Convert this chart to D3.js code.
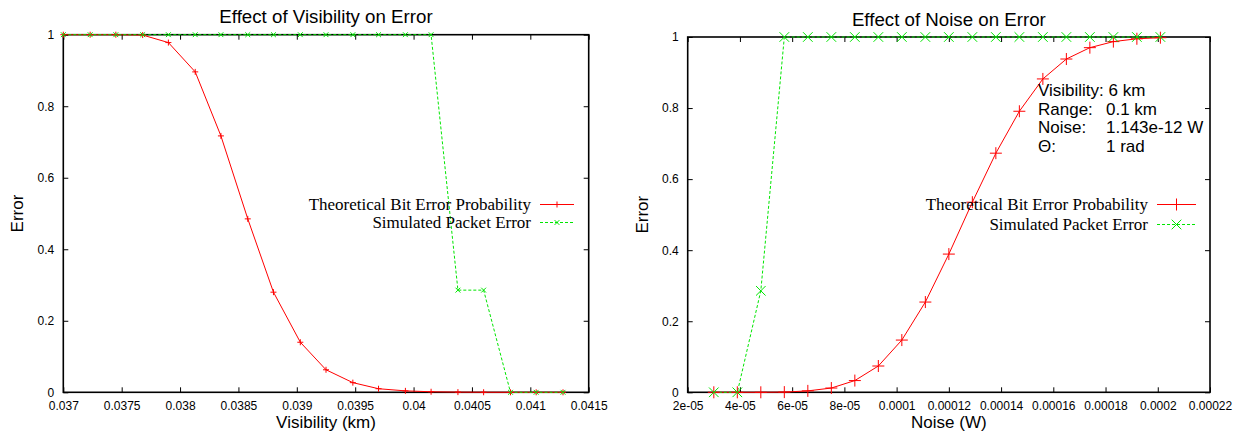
<!DOCTYPE html>
<html>
<head>
<meta charset="utf-8">
<script src="https://cdn.jsdelivr.net/npm/d3@7"></script>
<style>
  body { margin: 0; background: #fff; }
  svg { display: block; }
  .tick text { font-family: "Liberation Sans", Arial, sans-serif; font-size: 12px; fill: #000; }
</style>
</head>
<body>
<svg id="chart" width="1246" height="436"></svg>
<script>
// ---- data ----
const visX = [0.03700, 0.03723, 0.03745, 0.03768, 0.03790, 0.03813, 0.03835, 0.03858, 0.03880, 0.03903,
              0.03925, 0.03948, 0.03970, 0.03993, 0.04015, 0.04038, 0.04060, 0.04083, 0.04105, 0.04128];
const visTheory = [1, 1, 1, 0.999, 0.978, 0.896, 0.717, 0.485, 0.280, 0.140,
                   0.063, 0.027, 0.010, 0.004, 0.0015, 0.0005, 0.0001, 0, 0, 0];
const visSim = [1, 1, 1, 1, 1, 1, 1, 1, 1, 1,
                1, 1, 1, 1, 1, 0.2857, 0.2857, 0, 0, 0];

const noiseX = [3.0e-5, 3.9e-5, 4.8e-5, 5.7e-5, 6.6e-5, 7.5e-5, 8.4e-5, 9.3e-5, 1.02e-4, 1.11e-4,
                1.20e-4, 1.29e-4, 1.38e-4, 1.47e-4, 1.56e-4, 1.65e-4, 1.74e-4, 1.83e-4, 1.92e-4, 2.01e-4];
const noiseTheory = [0, 0, 0, 0.0005, 0.004, 0.012, 0.033, 0.074, 0.147, 0.254,
                     0.389, 0.535, 0.673, 0.791, 0.882, 0.938, 0.970, 0.987, 0.995, 0.998];
const noiseSim = [0, 0, 0.2857, 1, 1, 1, 1, 1, 1, 1,
                  1, 1, 1, 1, 1, 1, 1, 1, 1, 1];

const yTicks = [0, 0.2, 0.4, 0.6, 0.8, 1];
const yTickLabels = ["0", "0.2", "0.4", "0.6", "0.8", "1"];
const visTicks = [0.037, 0.0375, 0.038, 0.0385, 0.039, 0.0395, 0.04, 0.0405, 0.041, 0.0415];
const visTickLabels = ["0.037", "0.0375", "0.038", "0.0385", "0.039", "0.0395", "0.04", "0.0405", "0.041", "0.0415"];
const noiseTicks = [2e-5, 4e-5, 6e-5, 8e-5, 1e-4, 1.2e-4, 1.4e-4, 1.6e-4, 1.8e-4, 2e-4, 2.2e-4];
const noiseTickLabels = ["2e-05", "4e-05", "6e-05", "8e-05", "0.0001", "0.00012", "0.00014", "0.00016", "0.00018", "0.0002", "0.00022"];

const seriesNames = ["Theoretical Bit Error Probability", "Simulated Packet Error"];
const noteLabels = ["Visibility:", "Range:", "Noise:", "\u0398:"];
const noteValues = ["6 km", "0.1 km", "1.143e-12 W", "1 rad"];

const RED = "#ff0000", GREEN = "#00e600";
const SANS = "'Liberation Sans', Arial, sans-serif";
const SERIF = "'Liberation Serif', 'Times New Roman', serif";

const svg = d3.select("#chart");

// marker shapes
const plus = s => `M${-s},0H${s}M0,${-s}V${s}`;
const cross = s => `M${-s},${-s}L${s},${s}M${-s},${s}L${s},${-s}`;

function panel(opt) {
  const x = d3.scaleLinear().domain(opt.xDomain).range(opt.xRange);
  const y = d3.scaleLinear().domain([0, 1]).range(opt.yRange);
  const g = svg.append("g");

  // axes, ticks pointing inwards (gnuplot style, mirrored)
  g.append("g").attr("transform", `translate(0,${opt.yRange[0]})`)
    .call(d3.axisBottom(x).tickValues(opt.xTicks).tickFormat((d, i) => opt.xLabels[i])
      .tickSizeInner(-5).tickSizeOuter(0).tickPadding(9));
  g.append("g").attr("transform", `translate(0,${opt.yRange[1]})`)
    .call(d3.axisTop(x).tickValues(opt.xTicks).tickFormat("").tickSizeInner(-5).tickSizeOuter(0));
  g.append("g").attr("transform", `translate(${opt.xRange[0]},0)`)
    .call(d3.axisLeft(y).tickValues(yTicks).tickFormat((d, i) => yTickLabels[i])
      .tickSizeInner(-5).tickSizeOuter(0).tickPadding(9));
  g.append("g").attr("transform", `translate(${opt.xRange[1]},0)`)
    .call(d3.axisRight(y).tickValues(yTicks).tickFormat("").tickSizeInner(-5).tickSizeOuter(0));
  g.selectAll(".domain").remove();
  g.selectAll(".tick line").attr("stroke", "#000").attr("stroke-width", 1);

  g.append("rect")
    .attr("x", opt.xRange[0]).attr("y", opt.yRange[1])
    .attr("width", opt.xRange[1] - opt.xRange[0]).attr("height", opt.yRange[0] - opt.yRange[1])
    .attr("fill", "none").attr("stroke", "#000").attr("stroke-width", 1.6);

  const line = d3.line().x(d => x(d[0])).y(d => y(d[1]));
  const theory = opt.xs.map((v, i) => [v, opt.theory[i]]);
  const sim = opt.xs.map((v, i) => [v, opt.sim[i]]);

  g.append("path").datum(theory).attr("d", line)
    .attr("fill", "none").attr("stroke", RED).attr("stroke-width", 1);
  g.append("path").datum(sim).attr("d", line)
    .attr("fill", "none").attr("stroke", GREEN).attr("stroke-width", 1).attr("stroke-dasharray", "3,2");

  g.selectAll("path.mt").data(theory).join("path").attr("class", "mt")
    .attr("transform", d => `translate(${x(d[0])},${y(d[1])})`)
    .attr("d", plus(opt.ms)).attr("stroke", RED).attr("stroke-width", 1);
  g.selectAll("path.ms").data(sim).join("path").attr("class", "ms")
    .attr("transform", d => `translate(${x(d[0])},${y(d[1])})`)
    .attr("d", cross(opt.ms * 0.8)).attr("stroke", GREEN).attr("stroke-width", 1);

  // title and axis labels
  const cx = (opt.xRange[0] + opt.xRange[1]) / 2;
  g.append("text").attr("x", cx).attr("y", opt.yRange[1] - 11.5)
    .attr("text-anchor", "middle").style("font", `18.7px ${SANS}`).text(opt.title);
  g.append("text").attr("x", cx).attr("y", 428)
    .attr("text-anchor", "middle").style("font", `17px ${SANS}`).text(opt.xTitle);
  g.append("text").attr("transform", `translate(${opt.xRange[0] - 40},${(opt.yRange[0] + opt.yRange[1]) / 2}) rotate(-90)`)
    .attr("text-anchor", "middle").style("font", `17px ${SANS}`).text("Error");

  // legend
  const styles = [
    {color: RED, dash: "none", mark: plus, size: opt.ms},
    {color: GREEN, dash: "3,2", mark: cross, size: opt.ms * 0.8}
  ];
  styles.forEach((s, i) => {
    const ly = opt.legY[i];
    g.append("text").attr("x", opt.legX).attr("y", ly + 5).attr("text-anchor", "end")
      .style("font", `17px ${SERIF}`).text(seriesNames[i]);
    g.append("line").attr("x1", opt.legX + 9).attr("x2", opt.legX + 9 + opt.legW)
      .attr("y1", ly).attr("y2", ly)
      .style("stroke", s.color).style("stroke-width", 1).style("stroke-dasharray", s.dash);
    g.append("path").attr("transform", `translate(${opt.legX + 9 + opt.legW / 2},${ly})`)
      .attr("d", s.mark(s.size)).style("stroke", s.color).style("fill", "none");
  });
}

panel({
  xDomain: [0.037, 0.0415], xRange: [63.3, 588.7], yRange: [392.3, 34.7],
  xTicks: visTicks, xLabels: visTickLabels,
  xs: visX, theory: visTheory, sim: visSim, ms: 3,
  title: "Effect of Visibility on Error", xTitle: "Visibility (km)",
  legX: 531, legW: 34, legY: [204.5, 222.5]
});

panel({
  xDomain: [2e-5, 2.2e-4], xRange: [687.7, 1210], yRange: [392.3, 37],
  xTicks: noiseTicks, xLabels: noiseTickLabels,
  xs: noiseX, theory: noiseTheory, sim: noiseSim, ms: 6,
  title: "Effect of Noise on Error", xTitle: "Noise (W)",
  legX: 1148, legW: 39, legY: [204.5, 224.5]
});

// parameter note on the right panel
const note = svg.append("g").style("font", `17px ${SANS}`);
noteLabels.forEach((t, i) => {
  const ty = 96 + i * 18.7;
  if (i === 0) {
    note.append("text").attr("x", 1038).attr("y", ty).text(t + " " + noteValues[i]);
  } else {
    note.append("text").attr("x", 1038).attr("y", ty).text(t);
    note.append("text").attr("x", 1106).attr("y", ty).text(noteValues[i]);
  }
});
</script>
</body>
</html>
